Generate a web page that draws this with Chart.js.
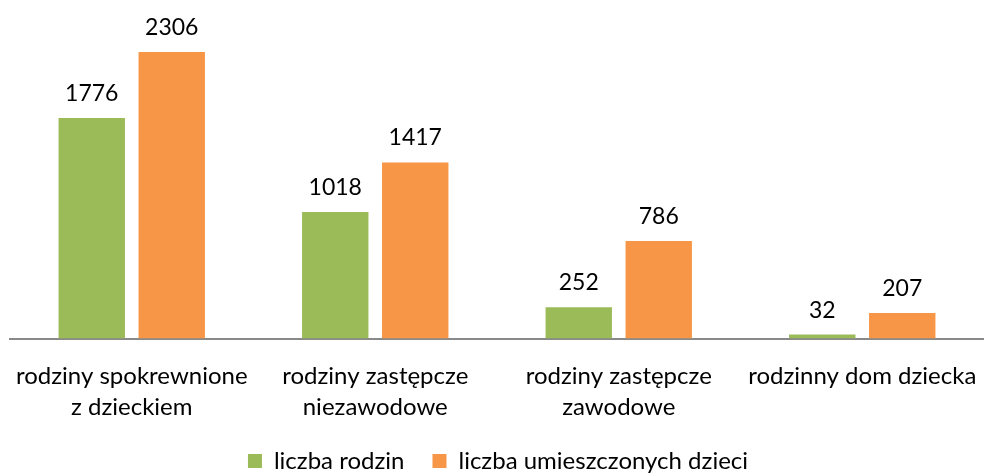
<!DOCTYPE html>
<html>
<head>
<meta charset="utf-8">
<script src="https://cdn.jsdelivr.net/npm/chart.js@4/dist/chart.umd.min.js"></script>
<style>
  html, body { margin: 0; padding: 0; background: #fff; }
  #wrap { width: 984px; height: 473px; }
</style>
</head>
<body>
<div id="wrap"><canvas id="chart" width="984" height="473"></canvas></div>
<script>
// Kategorien und Werte
const categories = [
    ['rodziny spokrewnione', 'z dzieckiem'],
    ['rodziny zastępcze', 'niezawodowe'],
    ['rodziny zastępcze', 'zawodowe'],
    ['rodzinny dom dziecka']
];
const seriesNames = ['liczba rodzin', 'liczba umieszczonych dzieci'];
const liczbaRodzin = [1776, 1018, 252, 32];
const liczbaDzieci = [2306, 1417, 786, 207];

const FONT = 'Lato, "Open Sans", sans-serif';

// Werte über den Balken zeichnen
const valueLabels = {
    id: 'valueLabels',
    afterDatasetsDraw(chart) {
        const ctx = chart.ctx;
        ctx.save();
        ctx.font = '23px ' + FONT;
        ctx.fillStyle = '#000';
        ctx.textAlign = 'center';
        ctx.textBaseline = 'bottom';
        chart.data.datasets.forEach((ds, i) => {
            chart.getDatasetMeta(i).data.forEach((bar, j) => {
                ctx.fillText(ds.data[j], bar.x, bar.y - 13);
            });
        });
        ctx.restore();
    }
};

new Chart(document.getElementById('chart'), {
    type: 'bar',
    data: {
        labels: categories,
        datasets: [
            { label: seriesNames[0], data: liczbaRodzin, backgroundColor: '#9BBB59' },
            { label: seriesNames[1], data: liczbaDzieci, backgroundColor: '#F79646' }
        ]
    },
    options: {
        responsive: false,
        animation: false,
        categoryPercentage: 0.657,
        barPercentage: 0.83,
        layout: { padding: { left: 10, right: -2, top: 28, bottom: -10 } },
        scales: {
            x: {
                grid: { display: false },
                border: { display: true, color: '#898989', width: 2 },
                ticks: { color: '#000', font: { family: FONT, size: 24, lineHeight: 1.3 }, padding: 14, maxRotation: 0 },
                afterFit: (scale) => {
                    // keine Extra-Abstände für die Randbeschriftungen
                    scale.paddingLeft = 0;
                    scale.paddingRight = 0;
                    scale.height -= 16;
                }
            },
            y: {
                display: false,
                min: 0,
                max: 2500
            }
        },
        plugins: {
            legend: {
                position: 'bottom',
                labels: {
                    color: '#000',
                    font: { family: FONT, size: 24 },
                    boxWidth: 14,
                    boxHeight: 14,
                    padding: 28
                }
            },
            tooltip: { enabled: false }
        }
    },
    plugins: [valueLabels]
});
</script>
</body>
</html>
